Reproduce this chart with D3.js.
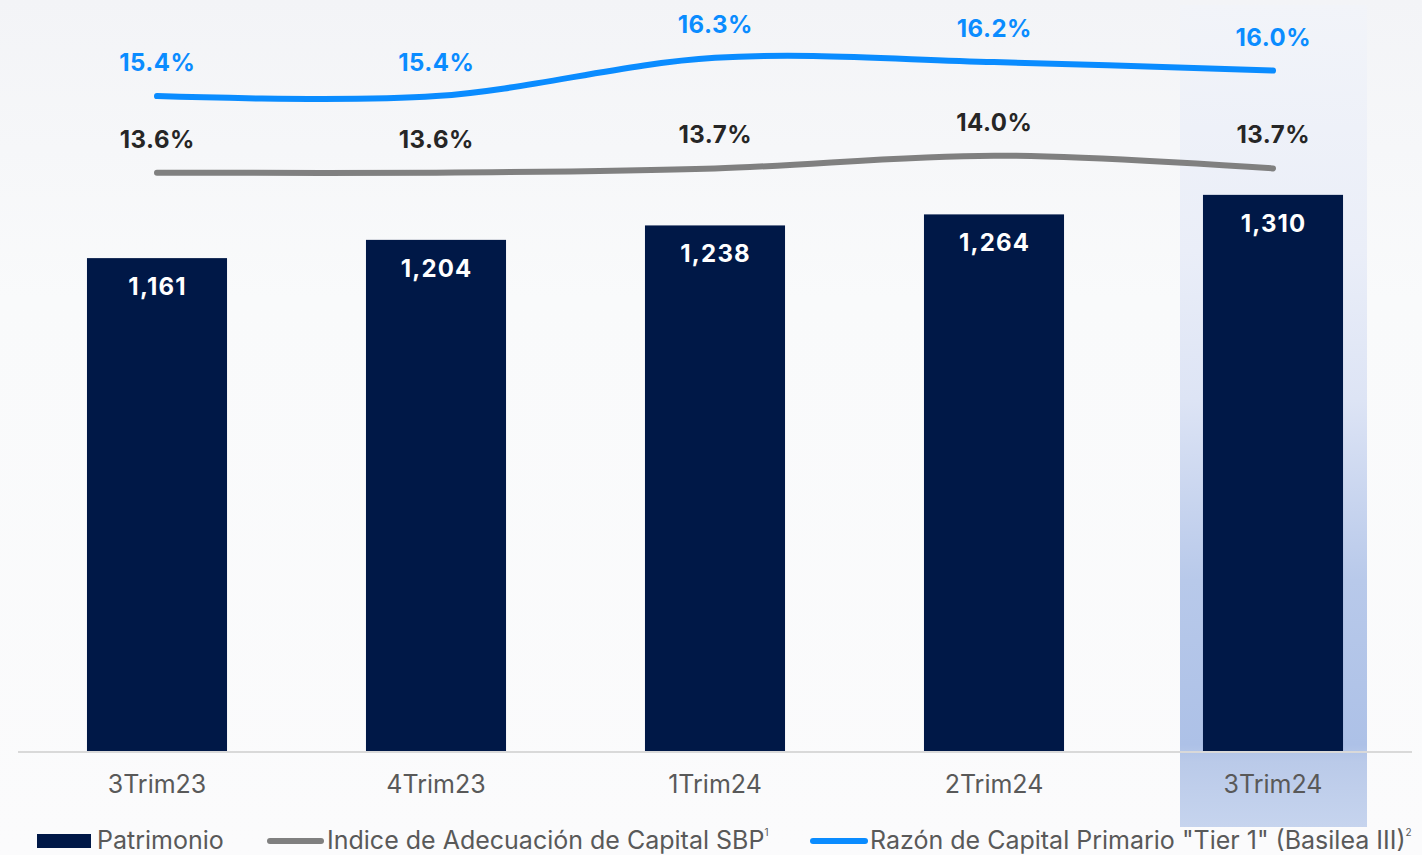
<!DOCTYPE html>
<html>
<head>
<meta charset="utf-8">
<script src="https://cdn.jsdelivr.net/npm/d3@7"></script>
<style>
  html, body { margin: 0; padding: 0; background: #fafbfc; }
  svg { display: block; font-family: Inter, "Noto Sans", sans-serif; }
</style>
</head>
<body>
<svg id="chart" width="1422" height="855"></svg>
<script>
// ---- data ----
const categories = ["3Trim23", "4Trim23", "1Trim24", "2Trim24", "3Trim24"];
const patrimonio = [1161, 1204, 1238, 1264, 1310];
const indiceSBP = [13.6, 13.6, 13.7, 14.0, 13.7];
const tier1 = [15.4, 15.4, 16.3, 16.2, 16.0];
const legendLabels = ["Patrimonio", "Indice de Adecuación de Capital SBP", "Razón de Capital Primario \"Tier 1\" (Basilea III)"];
const legendSups = ["", "1", "2"];
const highlighted = "3Trim24";

// ---- layout ----
const W = 1422, H = 855;
const baseY = 751;
const svg = d3.select("#chart");
const defs = svg.append("defs");

const bg = defs.append("linearGradient").attr("id", "bg").attr("x1", 0).attr("y1", 0).attr("x2", 0).attr("y2", 1);
bg.append("stop").attr("offset", 0).attr("stop-color", "#f3f4f7");
bg.append("stop").attr("offset", 0.35).attr("stop-color", "#f9fafb");
bg.append("stop").attr("offset", 1).attr("stop-color", "#fbfbfc");
svg.append("rect").attr("width", W).attr("height", H).attr("fill", "url(#bg)");

const hl = defs.append("linearGradient").attr("id", "hl").attr("x1", 0).attr("y1", 0).attr("x2", 0).attr("y2", 1);
[[0, "#f2f4f9"], [0.30, "#eaeef8"], [0.48, "#dde4f5"], [0.70, "#b8c9ea"], [0.90, "#adc1e7"], [0.92, "#bacae9"], [1, "#c6d4ee"]]
  .forEach(([o, c]) => hl.append("stop").attr("offset", o).attr("stop-color", c));

const x = d3.scaleBand().domain(categories).range([17.5, 1412.5]).paddingInner(0.498).paddingOuter(0.249);
const y = d3.scaleLinear().domain([0, 1769]).range([baseY, 0]);
const yp = d3.scaleLinear().domain([0, 17.66]).range([baseY, 0]);

// highlight column
const hx = x(highlighted) + x.bandwidth() / 2;
svg.append("rect").attr("x", hx - 93).attr("y", 5).attr("width", 187).attr("height", 822).attr("fill", "url(#hl)");

// axis line
svg.append("line").attr("x1", 18).attr("x2", 1412).attr("y1", baseY + 1).attr("y2", baseY + 1)
  .attr("stroke", "#d9d9d9").attr("stroke-width", 2);

// bars
svg.append("g").selectAll("rect").data(categories).join("rect")
  .attr("x", d => x(d)).attr("width", x.bandwidth())
  .attr("y", (d, i) => y(patrimonio[i])).attr("height", (d, i) => baseY - y(patrimonio[i]))
  .attr("fill", "#001847");

svg.append("g").selectAll("text").data(categories).join("text")
  .attr("x", d => x(d) + x.bandwidth() / 2 + 0.6)
  .attr("y", (d, i) => y(patrimonio[i]) + 37)
  .attr("text-anchor", "middle").attr("font-size", 24).attr("font-weight", 700).attr("fill", "#ffffff")
  .attr("letter-spacing", 1.2)
  .text((d, i) => d3.format(",")(patrimonio[i]));

// x-axis labels
const xAxis = d3.axisBottom(x).tickSize(0).tickPadding(0);
const gx = svg.append("g").attr("transform", `translate(0,${baseY})`).call(xAxis);
gx.select(".domain").remove();
gx.selectAll("text").attr("dy", null).attr("y", 42).attr("font-size", 25).attr("font-family", "Inter")
  .attr("fill", "#595959");

// lines
const line = d3.line().curve(d3.curveCardinal.tension(0))
  .x((d, i) => x(categories[i]) + x.bandwidth() / 2).y(d => yp(d));

function drawSeries(vals, color, labelColor) {
  svg.append("path").attr("d", line(vals)).attr("fill", "none").attr("stroke", color)
    .attr("stroke-width", 6).attr("stroke-linecap", "round");
  svg.append("g").selectAll("text").data(vals).join("text")
    .attr("x", (d, i) => x(categories[i]) + x.bandwidth() / 2 + 0.3)
    .attr("y", d => yp(d) - 25)
    .attr("text-anchor", "middle").attr("font-size", 24).attr("font-weight", 700).attr("fill", labelColor)
    .attr("letter-spacing", 0.5)
    .text(d => d.toFixed(1) + "%");
}
drawSeries(indiceSBP, "#808080", "#262626");
drawSeries(tier1, "#0a8cff", "#0a8cff");

// legend
const lg = svg.append("g").attr("font-size", 25).attr("fill", "#595959");
const legendX = [37, 267, 810];
lg.append("rect").attr("x", legendX[0]).attr("y", 834).attr("width", 54).attr("height", 14).attr("fill", "#001847");
lg.append("line").attr("x1", legendX[1] + 3).attr("x2", legendX[1] + 54).attr("y1", 841).attr("y2", 841)
  .attr("stroke", "#808080").attr("stroke-width", 6).attr("stroke-linecap", "round");
lg.append("line").attr("x1", legendX[2] + 3).attr("x2", legendX[2] + 55).attr("y1", 841).attr("y2", 841)
  .attr("stroke", "#0a8cff").attr("stroke-width", 6).attr("stroke-linecap", "round");
legendLabels.forEach((t, i) => {
  const tx = lg.append("text").attr("x", legendX[i] + 60).attr("y", 849);
  tx.append("tspan").text(t);
  if (legendSups[i]) tx.append("tspan").attr("font-size", 10).attr("dy", -13).text(legendSups[i]);
});
</script>
</body>
</html>
